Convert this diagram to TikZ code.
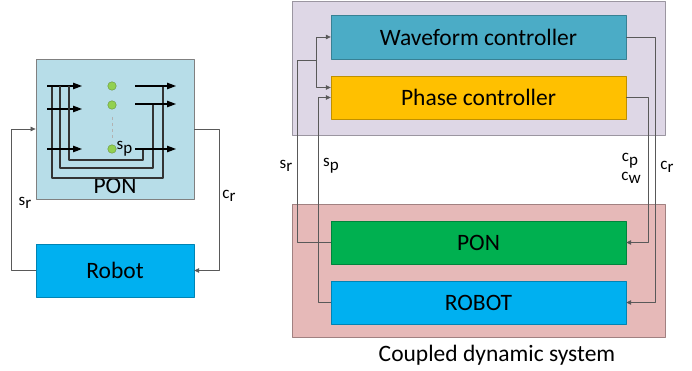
\documentclass[tikz,border=0pt]{standalone}
\usepackage{fontspec}
\setmainfont{Carlito}
\usetikzlibrary{arrows.meta}

\definecolor{ponlight}{HTML}{B7DDE8}
\definecolor{robotblue}{HTML}{00B0F0}
\definecolor{ctrlbg}{HTML}{DED7E6}
\definecolor{wavecol}{HTML}{4BACC6}
\definecolor{phasecol}{HTML}{FFC000}
\definecolor{plantbg}{HTML}{E6B9B8}
\definecolor{pongreen}{HTML}{00B050}
\definecolor{dotgreen}{HTML}{92D050}

% letter with a lowered index, same size
\newcommand{\idx}[2]{#1\raisebox{-0.45ex}{#2}}

\begin{document}
\begin{tikzpicture}[x=1pt,y=-1pt,line join=round,
  big/.style={font=\fontsize{23.5}{27}\selectfont},
  lab/.style={font=\fontsize{17}{19}\selectfont,inner sep=0pt},
  blk/.style={draw=#1!75!black,fill=#1,minimum width=295pt,minimum height=43pt,big},
  frame/.style={draw=#1!70!black,fill=#1,line width=0.8pt},
  wire/.style={draw=black!65,line width=0.7pt},
  tip/.style={-{Triangle[length=5pt,width=4.5pt]}},
  sig/.style={black,line width=1.1pt,-{Triangle[length=9pt,width=6.5pt]}},
  back/.style={black!80,line width=1.3pt},
  dot/.style={circle,draw=dotgreen!70!black,fill=dotgreen,inner sep=0pt,minimum size=8.5pt}]
\useasboundingbox (0,0) rectangle (692,371);

% ---- single loop: PON and robot ----
\node[draw=black!50,fill=ponlight,minimum width=158pt,minimum height=140pt,line width=0.8pt] (pon) at (115,129) {};
\node[big] (ponname) at (115,186) {PON};
\node[draw=robotblue!75!black,fill=robotblue,minimum width=158pt,minimum height=53pt,big] (robot) at (115,270.5) {Robot};

% inputs, outputs and their return paths inside the PON
\foreach \yin/\yout/\xr/\xl/\ybot in {86/86/163/52/178,109/104/153/60/168,149/149/143/69/160}{
\draw[back] (\xr,\yout)--(\xr,\ybot)--(\xl,\ybot)--(\xl,86);
\draw[sig] (47,\yin)--(82,\yin);
\draw[sig] (135,\yout)--(176,\yout);
}
\draw[black!30,dashed,line width=0.8pt] (112,117)--(112,138);
\node[dot] (d1) at (112,86) {};
\node[dot] (d2) at (112,105) {};
\node[dot] (d3) at (112,149) {};
\node[lab,anchor=west] (sp) at (d3.east) {\idx{s}{p}};

\draw[wire,tip] (robot.west) -- ++(-24,0) |- (pon.west);
\draw[wire,tip] (pon.east) -- ++(25,0) |- (robot.east);
\node[lab] (sr) at (25,203) {\idx{s}{r}};
\node[lab] (cr) at (229,196) {\idx{c}{r}};

% ---- coupled system ----
\node[frame=ctrlbg,minimum width=373pt,minimum height=134pt] (ctrl) at (478.5,68) {};
\node[frame=plantbg,minimum width=373pt,minimum height=133pt] (plant) at (478.5,270.5) {};
\node[blk=wavecol,minimum height=44pt] (wave) at (478.5,37) {Waveform controller};
\node[blk=phasecol] (phase) at (478.5,97.5) {Phase controller};
\node[blk=pongreen] (ponb) at (478.5,242.5) {PON};
\node[blk=robotblue] (robotb) at (478.5,302.5) {ROBOT};
\node[big] (caption) at (497,355) {Coupled dynamic system};

\coordinate (split) at (316,60);
\draw[wire] (ponb.west) -| (297,60) -- (split);
\draw[wire,tip] (split) |- (wave.west);
\draw[wire,tip] (split) |- ([yshift=10pt]phase.west);
\draw[wire,tip] (robotb.west) -- ++(-12,0) |- (phase.west);
\draw[wire,tip] (phase.east) -- ++(22,0) |- (ponb.east);
\draw[wire,tip] (wave.east) -- ++(29,0) |- (robotb.east);

\node[lab] (srb) at (286,166) {\idx{s}{r}};
\node[lab] (spb) at (331,166) {\idx{s}{p}};
\node[lab] (cpb) at (630,161) {\idx{c}{p}};
\node[lab] (cwb) at (631,178) {\idx{c}{w}};
\node[lab] (crb) at (667,167) {\idx{c}{r}};
\end{tikzpicture}
\end{document}
